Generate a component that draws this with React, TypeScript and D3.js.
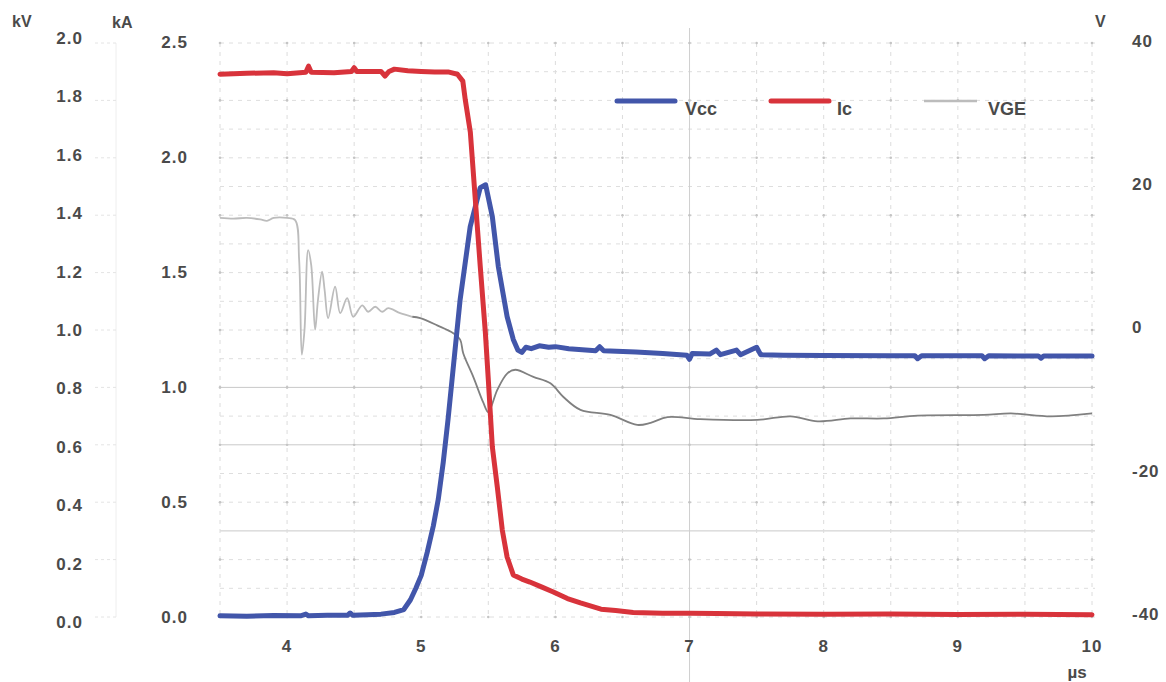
import React from 'react';
import * as d3 from 'd3';

// time axis (µs) and tick labels
const X_TICKS = [4, 5, 6, 7, 8, 9, 10];
const KV_TICKS = [0, 0.2, 0.4, 0.6, 0.8, 1.0, 1.2, 1.4, 1.6, 1.8, 2.0];
const KA_TICKS = [0, 0.5, 1.0, 1.5, 2.0, 2.5];
const V_TICKS = [-40, -20, 0, 20, 40];
const GRID_KV = [0, 0.1, 0.2, 0.3, 0.4, 0.5, 0.6, 0.7, 0.8, 0.9, 1.0, 1.1, 1.2, 1.3, 1.4, 1.5, 1.6, 1.7, 1.8, 1.9, 2.0];
const GRID_KV_SOLID = [0.3, 0.6, 0.8];
const GRID_X = [3.5, 4, 4.5, 5, 5.5, 6, 6.5, 7, 7.5, 8, 8.5, 9, 9.5, 10];

// Vcc in kV: [µs, kV]
const VCC: [number, number][] = [
  [3.5, 0.004], [3.7, 0.003], [3.9, 0.005], [4.1, 0.004], [4.14, 0.01], [4.16, 0.004],
  [4.3, 0.006], [4.45, 0.006], [4.47, 0.014], [4.49, 0.006], [4.6, 0.008], [4.7, 0.01],
  [4.8, 0.016], [4.87, 0.026], [4.92, 0.06], [4.96, 0.1], [5.0, 0.145], [5.045, 0.226],
  [5.09, 0.317], [5.127, 0.41], [5.164, 0.539], [5.2, 0.689], [5.23, 0.828], [5.29, 1.106],
  [5.365, 1.36], [5.44, 1.496], [5.48, 1.506], [5.53, 1.395], [5.575, 1.22], [5.64, 1.047],
  [5.686, 0.967], [5.72, 0.93], [5.75, 0.922], [5.78, 0.94], [5.82, 0.935], [5.88, 0.945],
  [5.95, 0.94], [6.0, 0.942], [6.1, 0.935], [6.3, 0.928], [6.33, 0.942], [6.36, 0.928],
  [6.6, 0.923], [6.8, 0.918], [6.98, 0.912], [7.0, 0.898], [7.02, 0.918], [7.15, 0.916],
  [7.2, 0.93], [7.23, 0.914], [7.35, 0.93], [7.38, 0.914], [7.5, 0.94], [7.53, 0.914],
  [7.7, 0.912], [8.0, 0.911], [8.5, 0.91], [8.68, 0.91], [8.7, 0.9], [8.73, 0.91],
  [9.0, 0.91], [9.18, 0.91], [9.2, 0.9], [9.23, 0.91], [9.5, 0.909], [9.6, 0.909],
  [9.62, 0.902], [9.64, 0.909], [10.0, 0.909],
];

// Ic in kA: [µs, kA]
const IC: [number, number][] = [
  [3.5, 2.36], [3.7, 2.364], [3.9, 2.366], [4.0, 2.362], [4.14, 2.368], [4.16, 2.395],
  [4.18, 2.368], [4.35, 2.366], [4.48, 2.372], [4.5, 2.388], [4.52, 2.372], [4.7, 2.372],
  [4.73, 2.352], [4.76, 2.372], [4.8, 2.382], [4.9, 2.375], [5.0, 2.372], [5.1, 2.37],
  [5.2, 2.37], [5.27, 2.36], [5.31, 2.33], [5.328, 2.25], [5.366, 2.108], [5.403, 1.816],
  [5.44, 1.524], [5.478, 1.237], [5.5, 1.032], [5.53, 0.74], [5.567, 0.566], [5.604, 0.379],
  [5.64, 0.261], [5.686, 0.183], [5.75, 0.165], [5.81, 0.152], [5.9, 0.13], [5.985, 0.109],
  [6.09, 0.08], [6.187, 0.061], [6.34, 0.034], [6.45, 0.028], [6.58, 0.02], [6.8, 0.016],
  [7.0, 0.016], [7.2, 0.015], [7.5, 0.013], [8.0, 0.012], [8.5, 0.013], [9.0, 0.011],
  [9.5, 0.012], [10.0, 0.01],
];

// VGE in V: light gray part, then darker part
const VGE_EARLY: [number, number][] = [
  [3.5, 15.3], [3.6, 15.2], [3.7, 15.3], [3.8, 15.1], [3.85, 14.9], [3.9, 15.3], [4.0, 15.3],
  [4.06, 15.0], [4.09, 9.4], [4.11, -3.8], [4.13, -0.3], [4.157, 10.8], [4.18, 8.7],
  [4.209, -0.3], [4.23, 3.8], [4.261, 7.8], [4.28, 5.2], [4.306, 1.3], [4.358, 5.7],
  [4.396, 2.0], [4.448, 4.1], [4.493, 1.5], [4.56, 3.1], [4.604, 2.2], [4.657, 2.9],
  [4.709, 2.2], [4.754, 2.7], [4.843, 2.0], [4.933, 1.5],
];
const VGE_LATE: [number, number][] = [
  [4.933, 1.5], [4.993, 1.3], [5.119, 0.3], [5.239, -0.8], [5.29, -1.7], [5.313, -3.6],
  [5.388, -6.9], [5.463, -10.5], [5.5, -11.8], [5.567, -8.7], [5.642, -6.4], [5.701, -5.9],
  [5.836, -6.9], [5.963, -7.8], [6.06, -9.7], [6.187, -11.5], [6.41, -12.2], [6.61, -13.6],
  [6.71, -13.3], [6.836, -12.5], [7.08, -12.8], [7.507, -12.9], [7.754, -12.4], [7.955, -13.1],
  [8.2, -12.7], [8.448, -12.7], [8.7, -12.3], [9.194, -12.2], [9.396, -12.0], [9.694, -12.4],
  [10.0, -12.0],
];

const BLUE = '#4256aa';
const RED = '#d8333b';
const TEXT = '#4a4a4a';
const FONT = "'Liberation Sans', Arial, sans-serif";

export default function App() {
  const W = 1166, H = 682;
  const x = d3.scaleLinear().domain([3.5, 10]).range([220, 1092]);
  const yKV = d3.scaleLinear().domain([0, 2]).range([617, 43]);
  const yKVLabel = d3.scaleLinear().domain([0, 2]).range([622, 38]);
  const yKA = d3.scaleLinear().domain([0, 2.5]).range([617, 42]);
  const yV = d3.scaleLinear().domain([-40, 40]).range([614, 41]);

  const lineKV = d3.line<[number, number]>().x(d => x(d[0])).y(d => yKV(d[1]));
  const lineKA = d3.line<[number, number]>().x(d => x(d[0])).y(d => yKA(d[1]));
  const lineV = d3.line<[number, number]>().x(d => x(d[0])).y(d => yV(d[1])).curve(d3.curveCatmullRom);
  const f1 = d3.format('.1f');

  const [x0, x1] = x.range();

  return (
    <div style={{ position: 'absolute', left: 0, top: 0 }}>
      <svg width={W} height={H} style={{ display: 'block', background: '#fff' }} fontFamily={FONT}>
        {/* faint left mini grid */}
        <line x1={116} x2={116} y1={43} y2={617} stroke="#eeeeee" />
        {KV_TICKS.map(t => (
          <line key={'m' + t} x1={95} x2={116} y1={yKV(t)} y2={yKV(t)} stroke="#e4e4e4" strokeDasharray="3,3" />
        ))}

        {/* grid */}
        {GRID_KV.map(t => (
          <line key={'h' + t} x1={x0} x2={x1 + 3} y1={yKV(t)} y2={yKV(t)}
            stroke={GRID_KV_SOLID.includes(t) ? '#c9c9c9' : '#dedede'}
            strokeDasharray={GRID_KV_SOLID.includes(t) ? undefined : '4,5'} />
        ))}
        {GRID_X.map(t => (
          <line key={'v' + t} x1={x(t)} x2={x(t)} y1={t === 7 ? 28 : 43} y2={t === 7 ? 682 : 617}
            stroke={t === 7 ? '#cfcfcf' : '#dcdcdc'} strokeDasharray={t === 7 ? undefined : '4,5'} />
        ))}
        {GRID_X.map(tx => GRID_KV.filter((_, i) => i % 2 === 0).map(ty => (
          <circle key={'d' + tx + '_' + ty} cx={x(tx)} cy={yKV(ty)} r={1.3} fill="#c4c4c4" />
        )))}

        {/* curves */}
        <path d={lineV(VGE_EARLY) || ''} fill="none" stroke="#bcbcbc" strokeWidth={1.8} strokeLinejoin="round" />
        <path d={lineV(VGE_LATE) || ''} fill="none" stroke="#808080" strokeWidth={1.8} strokeLinejoin="round" />
        <path d={lineKV(VCC) || ''} fill="none" stroke={BLUE} strokeWidth={5} strokeLinejoin="round" strokeLinecap="round" />
        <path d={lineKA(IC) || ''} fill="none" stroke={RED} strokeWidth={5} strokeLinejoin="round" strokeLinecap="round" />

        {/* axis titles */}
        <text x={12} y={27} fontSize={16} fontWeight="bold" fill={TEXT}>kV</text>
        <text x={112} y={28} fontSize={16} fontWeight="bold" fill={TEXT}>kA</text>
        <text x={1095} y={27} fontSize={16} fontWeight="bold" fill={TEXT}>V</text>

        {/* kV ticks */}
        {KV_TICKS.map(t => (
          <text key={'kv' + t} x={83} y={yKVLabel(t)} dy="0.35em" textAnchor="end" fontSize={17}
            fontWeight="bold" fill={TEXT} letterSpacing={1}>{f1(t)}</text>
        ))}
        {/* kA ticks */}
        {KA_TICKS.map(t => (
          <text key={'ka' + t} x={188} y={yKA(t)} dy="0.35em" textAnchor="end" fontSize={17}
            fontWeight="bold" fill={TEXT} letterSpacing={1}>{f1(t)}</text>
        ))}
        {/* V ticks */}
        {V_TICKS.map(t => (
          <text key={'v' + t} x={1132} y={yV(t)} dy="0.35em" textAnchor="start" fontSize={17}
            fontWeight="bold" fill={TEXT} letterSpacing={1}>{String(t)}</text>
        ))}
        {/* x ticks */}
        {X_TICKS.map(t => (
          <text key={'x' + t} x={x(t)} y={646} dy="0.35em" textAnchor="middle" fontSize={17}
            fontWeight="bold" fill={TEXT} letterSpacing={1}>{String(t)}</text>
        ))}
        <text x={1077} y={672} dy="0.35em" textAnchor="middle" fontSize={17} fontWeight="bold" fill={TEXT}>µs</text>

        {/* legend */}
        <line x1={617} x2={675} y1={101} y2={101} stroke={BLUE} strokeWidth={5} strokeLinecap="round" />
        <text x={685} y={115} fontSize={18} fontWeight="bold" fill={TEXT}>Vcc</text>
        <line x1={771} x2={829} y1={101} y2={101} stroke={RED} strokeWidth={5} strokeLinecap="round" />
        <text x={837} y={115} fontSize={18} fontWeight="bold" fill={TEXT}>Ic</text>
        <line x1={924} x2={977} y1={101} y2={101} stroke="#bcbcbc" strokeWidth={2.5} />
        <text x={988} y={115} fontSize={18} fontWeight="bold" fill={TEXT}>VGE</text>
      </svg>
    </div>
  );
}
